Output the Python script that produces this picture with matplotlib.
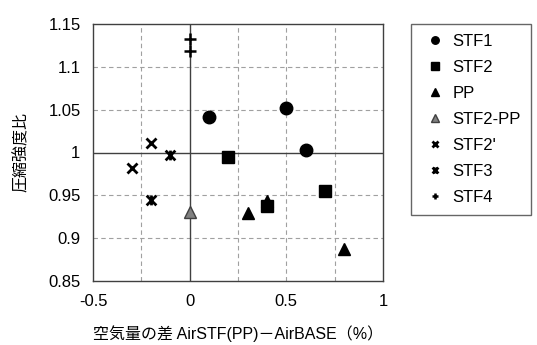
import matplotlib
matplotlib.use("Agg")
import matplotlib.pyplot as plt
from matplotlib.path import Path

plt.rcParams['font.family'] = ['Liberation Sans', 'Noto Sans CJK JP']

stf1_x = [0.1, 0.5, 0.6]
stf1_y = [1.041, 1.052, 1.003]
stf2_x = [0.2, 0.4, 0.7]
stf2_y = [0.995, 0.937, 0.955]
pp_x = [0.3, 0.4, 0.8]
pp_y = [0.929, 0.943, 0.887]
stf2pp_x = [0.0]
stf2pp_y = [0.930]
stf2p_x = [-0.3, -0.2]
stf2p_y = [0.982, 1.011]
stf3_x = [-0.2, -0.1]
stf3_y = [0.945, 0.997]
stf4_x = [0.0, 0.0]
stf4_y = [1.133, 1.119]

xticks = [-0.5, 0, 0.5, 1]
xtick_labels = ['-0.5', '0', '0.5', '1']
yticks = [0.85, 0.9, 0.95, 1.0, 1.05, 1.1, 1.15]
ytick_labels = ['0.85', '0.9', '0.95', '1', '1.05', '1.1', '1.15']

star = Path([(-1, -1), (1, 1), (-1, 1), (1, -1), (0, -1), (0, 1)],
            [Path.MOVETO, Path.LINETO, Path.MOVETO, Path.LINETO, Path.MOVETO, Path.LINETO])

fig = plt.figure(figsize=(5.37, 3.45), dpi=100)
ax = fig.add_axes([93/537, 1 - 281/345, 290/537, 257/345])

ax.set_xlim(-0.5, 1)
ax.set_ylim(0.85, 1.15)
for gx in [-0.25, 0.25, 0.5, 0.75]:
    ax.axvline(gx, color='#a0a0a0', lw=0.8, ls=(0, (4, 3)), zorder=1)
for gy in [0.9, 0.95, 1.05, 1.1]:
    ax.axhline(gy, color='#a0a0a0', lw=0.8, ls=(0, (4, 3)), zorder=1)
ax.axvline(0, color='#404040', lw=1.0, zorder=1)
ax.axhline(1.0, color='#404040', lw=1.0, zorder=1)

ax.plot(stf1_x, stf1_y, 'o', color='black', ms=9, label='STF1', zorder=3)
ax.plot(stf2_x, stf2_y, 's', color='black', ms=9, label='STF2', zorder=3)
ax.plot(pp_x, pp_y, '^', color='black', ms=9, label='PP', zorder=3)
ax.plot(stf2pp_x, stf2pp_y, '^', mfc='#808080', mec='#404040', ms=9, label='STF2-PP', zorder=3)
ax.plot(stf2p_x, stf2p_y, 'x', color='black', ms=7, mew=2, label="STF2'", zorder=3)
ax.plot(stf3_x, stf3_y, marker=star, ls='none', color='black', ms=7, mew=2, label='STF3', zorder=3)
ax.plot(stf4_x, stf4_y, '+', color='black', ms=8, mew=1.8, label='STF4', zorder=3)

ax.set_xticks(xticks)
ax.set_xticklabels(xtick_labels)
ax.set_yticks(yticks)
ax.set_yticklabels(ytick_labels)
ax.tick_params(length=0, labelsize=12, pad=9)
for s in ax.spines.values():
    s.set_color('#404040')
    s.set_linewidth(1.0)

ax.set_xlabel('空気量の差 AirSTF(PP)－AirBASE（%）', fontsize=11.5, labelpad=12)
ax.set_ylabel('圧縮強度比', fontsize=11.5, labelpad=14)

leg = ax.legend(loc='upper left', bbox_to_anchor=(411/537, 1 - 24/345), bbox_transform=fig.transFigure,
                fontsize=12, frameon=True, fancybox=False, edgecolor='#404040', markerscale=0.6,
                handlelength=1.7, handletextpad=0.2, labelspacing=0.66, borderpad=0.6,
                borderaxespad=0)
leg.get_frame().set_linewidth(1.0)

fig.savefig('out.png', dpi=100)
